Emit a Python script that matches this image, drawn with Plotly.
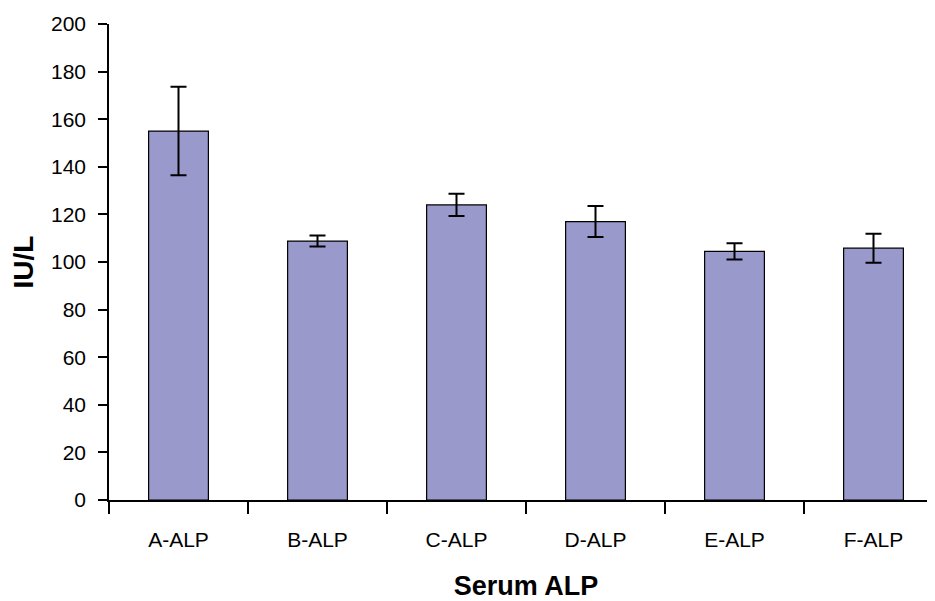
import plotly.graph_objects as go

categories = ["A-ALP", "B-ALP", "C-ALP", "D-ALP", "E-ALP", "F-ALP"]
values = [155.0, 108.8, 124.0, 117.0, 104.5, 105.8]
errors = [18.6, 2.3, 4.7, 6.5, 3.4, 6.1]
y_ticks = [0, 20, 40, 60, 80, 100, 120, 140, 160, 180, 200]

fig = go.Figure(go.Bar(
    x=categories, y=values,
    width=0.43,
    marker=dict(color="#9999CC", line=dict(color="#000000", width=1.2)),
    error_y=dict(type="data", array=errors, visible=True, color="#000000",
                 thickness=2, width=8),
))

font = "Liberation Sans, Arial, sans-serif"
fig.update_layout(
    width=935, height=601,
    margin=dict(l=101, r=0, t=16, b=109),
    plot_bgcolor="white", paper_bgcolor="white",
    showlegend=False,
    font=dict(family=font, size=21, color="#000000"),
    xaxis=dict(
        type="category", range=[-0.5, 5.5],
        showline=True, linecolor="#000000", linewidth=1.5,
        ticks="outside", tickson="boundaries", ticklen=12, tickwidth=1.5, tickcolor="#000000",
        showgrid=False, ticklabelstandoff=20,
        title=dict(text="<b>Serum ALP</b>", font=dict(size=27), standoff=26),
    ),
    yaxis=dict(
        range=[0, 200], tickvals=y_ticks,
        showline=True, linecolor="#000000", linewidth=1.5,
        ticks="outside", ticklen=9, tickwidth=1.5, tickcolor="#000000",
        showgrid=False, zeroline=False, ticklabelstandoff=8,
        title=dict(text="<b>IU/L</b>", font=dict(size=28), standoff=12),
    ),
)

fig.write_html("out.html")
